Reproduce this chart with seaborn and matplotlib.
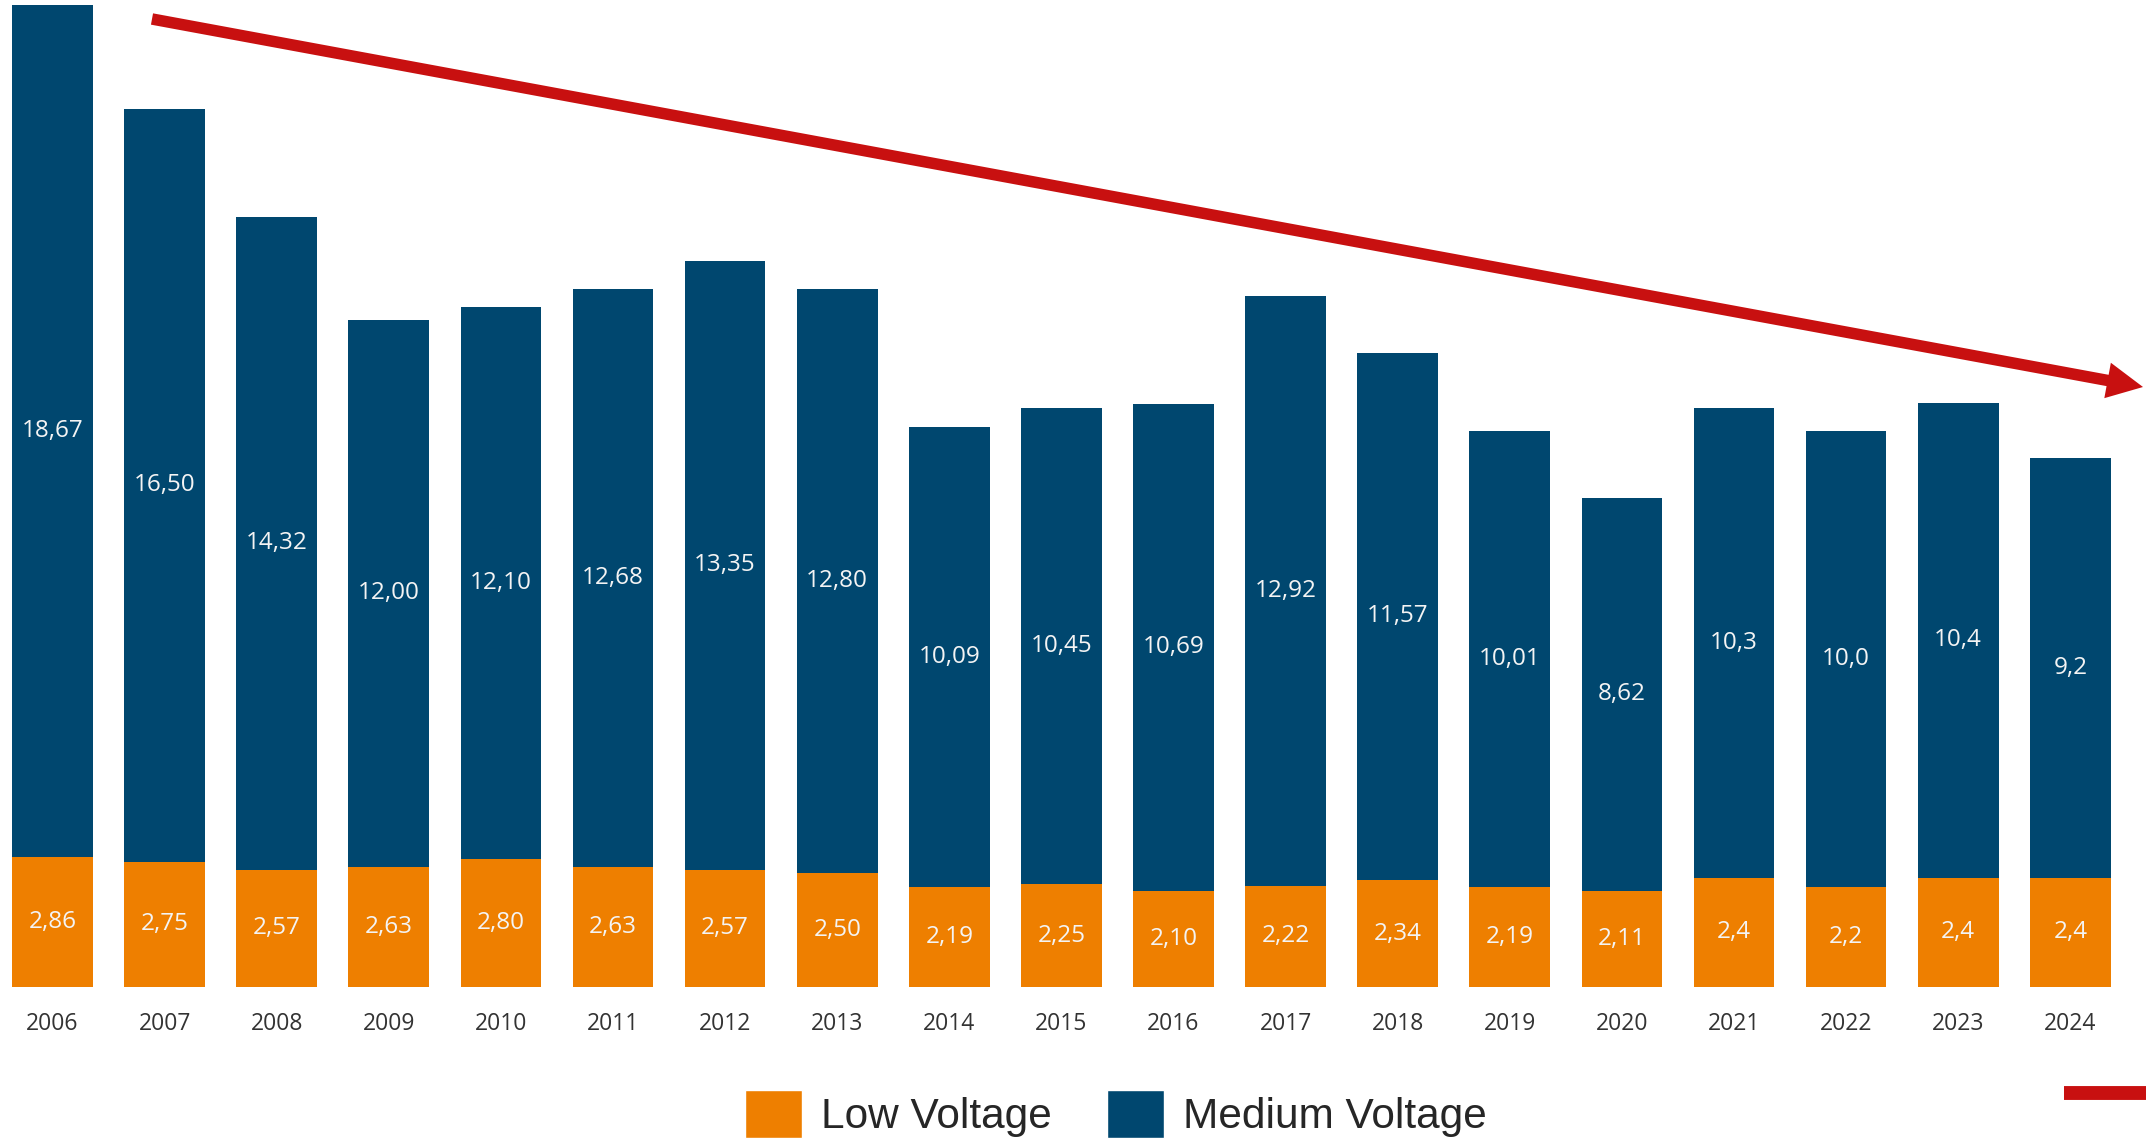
import matplotlib
matplotlib.use("Agg")
import matplotlib.pyplot as plt
import seaborn as sns
import pandas as pd
from matplotlib.patches import Patch, FancyArrow
from matplotlib.lines import Line2D

# Dados (MWh / perdas) - Baixa e Média Tensão
anos = [str(a) for a in range(2006, 2025)]
media_tensao = [18.67, 16.50, 14.32, 12.00, 12.10, 12.68, 13.35, 12.80, 10.09,
                10.45, 10.69, 12.92, 11.57, 10.01, 8.62, 10.3, 10.0, 10.4, 9.2]
baixa_tensao = [2.86, 2.75, 2.57, 2.63, 2.80, 2.63, 2.57, 2.50, 2.19,
                2.25, 2.10, 2.22, 2.34, 2.19, 2.11, 2.4, 2.2, 2.4, 2.4]
casas_decimais = [2] * 15 + [1] * 4

AZUL = "#00476F"
LARANJA = "#EE7F00"
VERMELHO = "#C81010"

sns.set_style("white")
plt.rcParams['font.family'] = ['Open Sans', 'DejaVu Sans']

df = pd.DataFrame({"Ano": anos, "Medium": media_tensao, "Low": baixa_tensao})
df["Total"] = df["Medium"] + df["Low"]

fig = plt.figure(figsize=(21.46, 11.39), dpi=100)
ax = fig.add_axes([0, 152 / 1139, 1, 1 - 152 / 1139])

sns.barplot(data=df, x="Ano", y="Total", color=AZUL, width=0.72,
            saturation=1, linewidth=0, ax=ax)
sns.barplot(data=df, x="Ano", y="Low", color=LARANJA, width=0.72,
            saturation=1, linewidth=0, ax=ax)

def fmt(v, d):
    return f"{v:.{d}f}".replace(".", ",")

for i, (m, b, d) in enumerate(zip(media_tensao, baixa_tensao, casas_decimais)):
    ax.text(i, b / 2, fmt(b, d), ha="center", va="center",
            color="#F4F4F4", fontsize=17.5)
    ax.text(i, b + m / 2, fmt(m, d), ha="center", va="center",
            color="#F4F4F4", fontsize=17.5)

ax.set_xlim(-0.468, 18.675)
ax.set_ylim(0, 21.64)
ax.set_xlabel("")
ax.set_ylabel("")
ax.set_yticks([])
ax.tick_params(axis="x", length=0, pad=18, labelsize=16.5, labelcolor="#333333")
sns.despine(ax=ax, left=True, bottom=True)

# Seta de tendência
px = 1 / 100
seta = FancyArrow(152 * px, (1139 - 19) * px, (2143 - 152) * px, -(387 - 19) * px,
                  width=11.5 * px, head_width=36 * px, head_length=36 * px,
                  length_includes_head=True, color=VERMELHO, linewidth=0,
                  transform=fig.dpi_scale_trans)
fig.add_artist(seta)

# Legenda
handles = [Patch(facecolor=LARANJA, label="Low Voltage"),
           Patch(facecolor=AZUL, label="Medium Voltage")]
fig.legend(handles=handles, loc="center", ncol=2, frameon=False,
           bbox_to_anchor=(1116 / 2146, 25 / 1139),
           prop={"family": "Liberation Sans", "size": 30.5},
           handlelength=1.35, handleheight=1.4, handletextpad=0.45,
           columnspacing=1.3, borderpad=0)

fig.add_artist(Line2D([2064 / 2146, 1.0], [46 / 1139, 46 / 1139], color=VERMELHO,
                      linewidth=10, solid_capstyle="butt",
                      transform=fig.transFigure))

plt.savefig("out.png", dpi=100)
